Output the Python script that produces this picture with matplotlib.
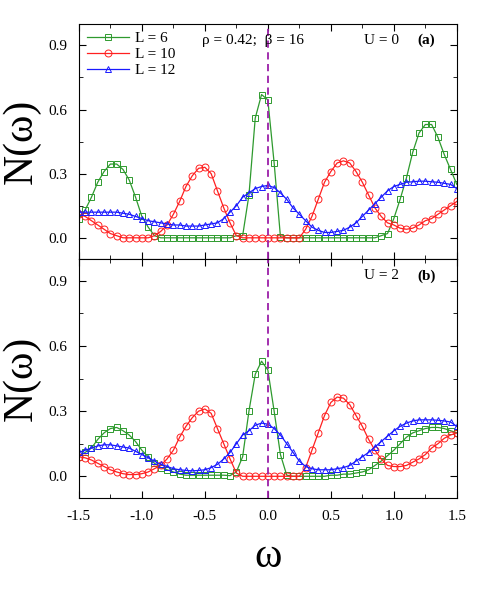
import numpy as np
import matplotlib
matplotlib.use("Agg")
import matplotlib.pyplot as plt
from matplotlib.ticker import MultipleLocator

plt.rcParams['font.family'] = ['Liberation Serif', 'DejaVu Serif']
plt.rcParams['mathtext.fontset'] = 'stix'

omega = np.round(np.arange(-1.5, 1.5001, 0.05), 2)

g_a = [0.09,0.13,0.19,0.26,0.31,0.345,0.345,0.32,0.27,0.19,0.10,
       0.05,0.01,0.0,0,0,0,0,0,0,0,
       0,0,0,0,0.01,0.01,0.20,0.56,0.67,0.645,
       0.35,0.005,0,0,0,0,0,0,0,0,
       0,0,0,0,0,0,0,0.01,0.02,0.09,
       0.18,0.28,0.40,0.49,0.53,0.53,0.47,0.39,0.32,0.25]
r_a = [0.11,0.10,0.08,0.06,0.04,0.02,0.01,0.0,0,0,0,
       0,0.01,0.03,0.06,0.11,0.17,0.24,0.29,0.325,0.33,
       0.30,0.22,0.14,0.07,0.01,0,0,0,0,0,
       0,0,0,0,0,0.04,0.10,0.18,0.26,0.31,
       0.35,0.36,0.35,0.31,0.26,0.20,0.14,0.10,0.07,0.06,
       0.045,0.04,0.045,0.06,0.08,0.09,0.11,0.13,0.15,0.17]
b_a = [0.12,0.12,0.12,0.12,0.12,0.12,0.12,0.115,0.11,0.10,0.09,
       0.08,0.075,0.07,0.065,0.06,0.06,0.055,0.055,0.055,0.06,
       0.065,0.07,0.09,0.12,0.15,0.19,0.21,0.23,0.24,0.245,
       0.235,0.21,0.18,0.14,0.11,0.08,0.05,0.035,0.025,0.025,
       0.03,0.035,0.05,0.07,0.10,0.13,0.16,0.19,0.22,0.24,
       0.25,0.26,0.262,0.265,0.265,0.262,0.26,0.255,0.25,0.23]
g_b = [0.09,0.11,0.13,0.17,0.20,0.22,0.225,0.21,0.19,0.16,0.12,
       0.09,0.06,0.04,0.03,0.02,0.01,0.005,0.005,0.005,0.005,
       0.005,0.005,0.005,0.003,0.02,0.09,0.30,0.47,0.53,0.49,
       0.30,0.10,0.005,0,0,0,0,0,0,0.005,
       0.005,0.01,0.01,0.015,0.02,0.03,0.05,0.07,0.095,0.12,
       0.15,0.18,0.20,0.21,0.22,0.225,0.225,0.22,0.21,0.20]
r_b = [0.09,0.085,0.075,0.06,0.045,0.03,0.02,0.012,0.008,0.008,0.012,
       0.02,0.035,0.05,0.08,0.12,0.18,0.23,0.27,0.30,0.31,
       0.29,0.22,0.15,0.08,0.015,0,0,0,0,0,
       0,0,0,0,0,0.04,0.12,0.20,0.28,0.34,
       0.365,0.36,0.33,0.28,0.23,0.17,0.12,0.08,0.05,0.045,
       0.045,0.05,0.065,0.08,0.10,0.13,0.15,0.175,0.19,0.20]
b_b = [0.11,0.12,0.13,0.14,0.145,0.145,0.14,0.135,0.13,0.115,0.10,
       0.085,0.07,0.055,0.045,0.035,0.03,0.027,0.025,0.027,0.03,
       0.04,0.055,0.08,0.11,0.15,0.19,0.21,0.235,0.245,0.24,
       0.22,0.19,0.15,0.11,0.07,0.045,0.035,0.03,0.03,0.03,
       0.035,0.04,0.05,0.07,0.09,0.11,0.135,0.16,0.185,0.21,
       0.23,0.245,0.255,0.26,0.26,0.26,0.258,0.255,0.25,0.23]

labels = ["L = 6", "L = 10", "L = 12"]
colors = ["#2e9a2e", "#ff2020", "#1a1aff"]
markers = ["s", "o", "^"]

fig = plt.figure(figsize=(4.96, 6.0), dpi=100)
ax1 = fig.add_axes([0.159, 0.568, 0.762, 0.392])
ax2 = fig.add_axes([0.159, 0.170, 0.762, 0.398], sharex=ax1)

for ax, data, tag in [(ax1, [g_a, r_a, b_a], ("U = 0", "(a)")),
                      (ax2, [g_b, r_b, b_b], ("U = 2", "(b)"))]:
    for y, c, m, lab in zip(data, colors, markers, labels):
        ax.plot(omega, y, color=c, marker=m, mfc='none', mec=c, ms=5,
                mew=0.7, lw=0.9, label=lab)
    ax.axvline(0, color='#9b1fa8', ls='--', lw=1.3, dashes=(4, 2.5))
    ax.set_xlim(-1.5, 1.5)
    ax.set_ylim(-0.1, 1.0)
    ax.xaxis.set_major_locator(MultipleLocator(0.5))
    ax.xaxis.set_minor_locator(MultipleLocator(0.25))
    ax.yaxis.set_major_locator(MultipleLocator(0.3))
    ax.yaxis.set_minor_locator(MultipleLocator(0.15))
    ax.tick_params(which='both', direction='in', top=True, right=True, labelsize=11)
    ax.tick_params(which='major', length=5)
    ax.tick_params(which='minor', length=3)
    ax.tick_params(axis='y', pad=8)
    ax.set_yticks([0.0, 0.3, 0.6, 0.9])
    ax.set_yticklabels(["0.0", "0.3", "0.6", "0.9"])
    ax.set_ylabel("N(ω)", fontsize=30, labelpad=6)
    ax.text(0.80, 0.93, tag[0], transform=ax.transAxes, fontsize=11, ha='center', va='center')
    ax.text(0.92, 0.93, tag[1], transform=ax.transAxes, fontsize=11, ha='center', va='center', fontweight='bold')

ax1.tick_params(labelbottom=False)
ax1.text(0.46, 0.93, "ρ = 0.42;  β = 16", transform=ax1.transAxes, fontsize=11, ha='center', va='center')
ax1.legend(loc='upper left', frameon=False, fontsize=11, handlelength=2.8,
           borderaxespad=0.1, labelspacing=0.15, handletextpad=0.4)
ax2.set_xticks([-1.5, -1.0, -0.5, 0.0, 0.5, 1.0, 1.5])
ax2.set_xticklabels(["-1.5", "-1.0", "-0.5", "0.0", "0.5", "1.0", "1.5"])
ax2.tick_params(axis='x', pad=9)
ax2.set_xlabel("ω", fontsize=30, labelpad=10)

fig.savefig("out.png", dpi=100)
